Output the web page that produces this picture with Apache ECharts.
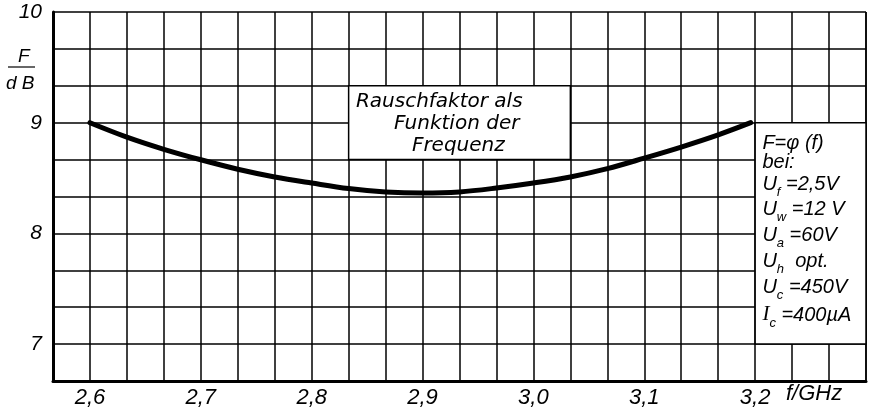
<!DOCTYPE html>
<html>
<head>
<meta charset="utf-8">
<script src="https://cdn.jsdelivr.net/npm/echarts@6/dist/echarts.min.js"></script>
<style>
  html, body { margin: 0; padding: 0; background: #fff; }
  #chart { width: 869px; height: 409px; }
</style>
</head>
<body>
<div id="chart"></div>
<script>
// Noise figure F (dB) versus frequency f (GHz)
const freqGHz = [2.6, 2.6333, 2.6667, 2.7, 2.7333, 2.7667, 2.8, 2.8333, 2.8667, 2.9,
                 2.9333, 2.9667, 3.0, 3.0333, 3.0667, 3.1, 3.1333, 3.1667, 3.196];
const noiseDb = [9.00, 8.87, 8.76, 8.665, 8.58, 8.51, 8.455, 8.405, 8.375, 8.365,
                 8.375, 8.41, 8.455, 8.51, 8.585, 8.68, 8.78, 8.89, 9.00];

// labelled ticks
const xTickValues = [2.6, 2.7, 2.8, 2.9, 3.0, 3.1, 3.2];
const xTickLabels = ['2,6', '2,7', '2,8', '2,9', '3,0', '3,1', '3,2'];
const yTickValues = [7, 8, 9, 10];
const yTickLabels = ['7', '8', '9', '10'];

// operating conditions listed in the right-hand box
const conditionLines = [
  '{r1|F=φ (f)}',
  '{r2|bei:}',
  '{r3|U}{s|f}{r3| =2,5V}',
  '{r4|U}{s|w}{r4| =12 V}',
  '{r5|U}{s|a}{r5| =60V}',
  '{r6|U}{s|h}{r6|  opt.}',
  '{r7|U}{s|c}{r7| =450V}',
  '{i|I}{s|c}{r8| =400µA}'
];
const titleLines = [
  '{a|Rauschfaktor als}',
  '{p1| }{a|Funktion der}',
  '{p2| }{a|Frequenz}'
];

const INK = '#000';
const HAND = 'Liberation Sans';

function pickLabel(values, labels) {
  return function (v) {
    for (let i = 0; i < values.length; i++) {
      if (Math.abs(v - values[i]) < 1e-6) return labels[i];
    }
    return '';
  };
}

function mainStyle(lh) {
  return { fontFamily: HAND, fontStyle: 'italic', fontSize: 20, color: INK,
           lineHeight: lh, verticalAlign: 'middle' };
}

const chart = echarts.init(document.getElementById('chart'), null, { renderer: 'canvas' });

chart.setOption({
  backgroundColor: '#fff',
  animation: false,
  grid: { left: 53, right: 1, top: 12, bottom: 28, containLabel: false },
  xAxis: {
    type: 'value',
    min: 77 / 30,
    max: 3.3,
    interval: 1 / 30,
    axisLine: { show: true, onZero: false, lineStyle: { color: INK, width: 3 } },
    axisTick: { show: false },
    splitLine: { show: true, lineStyle: { color: INK, width: 1.5 } },
    axisLabel: {
      formatter: pickLabel(xTickValues, xTickLabels),
      color: INK, fontFamily: HAND, fontStyle: 'italic', fontSize: 22,
      margin: 6, showMinLabel: true, showMaxLabel: true
    }
  },
  yAxis: {
    type: 'value',
    min: 20 / 3,
    max: 10,
    interval: 1 / 3,
    axisLine: { show: true, onZero: false, lineStyle: { color: INK, width: 3 } },
    axisTick: { show: false },
    splitLine: { show: true, lineStyle: { color: INK, width: 1.5 } },
    axisLabel: {
      formatter: pickLabel(yTickValues, yTickLabels),
      color: INK, fontFamily: HAND, fontStyle: 'italic', fontSize: 21,
      margin: 11, padding: [6, 0, 0, 0], showMinLabel: true, showMaxLabel: true
    }
  },
  series: [
    {
      type: 'line',
      data: freqGHz.map((f, i) => [f, noiseDb[i]]),
      smooth: 0.35,
      symbol: 'none',
      lineStyle: { color: INK, width: 5, cap: 'round' },
      z: 5
    },
    {
      // white text panels cut out of the grid
      type: 'line',
      data: [],
      silent: true,
      markArea: {
        silent: true,
        itemStyle: { color: '#fff', borderColor: INK, borderWidth: 1.5 },
        data: [
          [
            {
              xAxis: 85 / 30, yAxis: 28 / 3,
              label: {
                show: true, position: 'insideTopLeft', distance: 0,
                padding: [6, 0, 0, 8],
                formatter: titleLines.join('\n'),
                rich: {
                  a: { fontFamily: 'DejaVu Sans', fontStyle: 'italic', fontSize: 20,
                       color: INK, lineHeight: 22 },
                  p1: { width: 38, lineHeight: 22 },
                  p2: { width: 56, lineHeight: 22 }
                }
              }
            },
            { xAxis: 91 / 30, yAxis: 26 / 3 }
          ],
          [
            {
              xAxis: 3.2, yAxis: 9,
              label: {
                show: true, position: 'insideTopLeft', distance: 0,
                padding: [12, 0, 0, 8],
                formatter: conditionLines.join('\n'),
                rich: {
                  r1: mainStyle(18), r2: mainStyle(20), r3: mainStyle(24), r4: mainStyle(26),
                  r5: mainStyle(26), r6: mainStyle(26), r7: mainStyle(26), r8: mainStyle(30),
                  i: { fontFamily: 'Liberation Serif', fontStyle: 'italic', fontSize: 21,
                       color: INK, lineHeight: 30, verticalAlign: 'middle' },
                  s: { fontFamily: HAND, fontStyle: 'italic', fontSize: 13, color: INK,
                       lineHeight: 10, padding: [16, 0, 0, 0], verticalAlign: 'middle' }
                }
              }
            },
            { xAxis: 3.3, yAxis: 7 }
          ]
        ]
      },
      z: 4
    }
  ],
  graphic: [
    {
      type: 'text', left: 18, top: 47,
      style: { text: 'F', fontFamily: HAND, fontStyle: 'italic', fontSize: 19, fill: INK }
    },
    {
      type: 'line', shape: { x1: 8, y1: 67, x2: 35, y2: 67 },
      style: { stroke: INK, lineWidth: 1.2 }
    },
    {
      type: 'text', left: 6, top: 74,
      style: { text: 'd B', fontFamily: HAND, fontStyle: 'italic', fontSize: 19, fill: INK }
    },
    {
      type: 'text', left: 786, top: 383,
      style: { text: 'f/GHz', fontFamily: HAND, fontStyle: 'italic', fontSize: 22, fill: INK }
    }
  ]
});
</script>
</body>
</html>
